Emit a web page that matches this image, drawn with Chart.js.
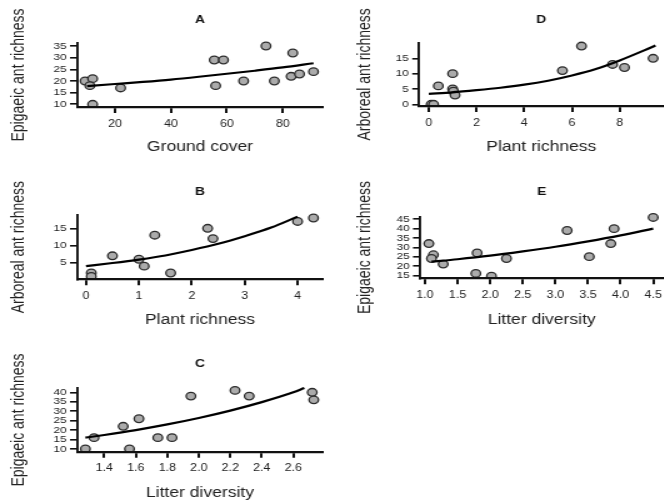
<!DOCTYPE html>
<html>
<head>
<meta charset="utf-8">
<script src="https://cdn.jsdelivr.net/npm/chart.js@4.4.1/dist/chart.umd.min.js"></script>
<style>
  html, body { margin: 0; padding: 0; overflow: hidden; background: #fff; }
  body { position: relative; width: 664px; height: 502px; }
  .panel { position: absolute; transform: scaleX(1.25); transform-origin: 0 0; }
  .panel canvas { display: block; }
</style>
</head>
<body>
<div class="panel" style="left:0px;top:0px"><canvas id="panelA" width="264" height="165"></canvas></div>
<div class="panel" style="left:330px;top:0px"><canvas id="panelD" width="272" height="165"></canvas></div>
<div class="panel" style="left:0px;top:165px"><canvas id="panelB" width="264" height="165"></canvas></div>
<div class="panel" style="left:330px;top:165px"><canvas id="panelE" width="272" height="165"></canvas></div>
<div class="panel" style="left:0px;top:330px"><canvas id="panelC" width="264" height="172"></canvas></div>
<script>
const FONT = '"Liberation Sans", Arial, Helvetica, sans-serif';

// A - ground cover vs epigaeic ants
const groundCover = [9.3, 12, 11, 12, 22, 55.5, 58.8, 56, 66, 74, 77, 83.6, 83, 86, 91];
const epigaeicA = [20, 21, 18, 10, 17, 29, 29, 18, 20, 35, 20, 32, 22, 23, 24];
const fitGroundX = [10, 20, 30, 40, 50, 60, 70, 80, 91];
const fitGroundY = [17.8, 18.7, 19.6, 20.6, 21.8, 23.1, 24.4, 25.8, 27.6];
const ticksAx = [20, 40, 60, 80];
const ticksAy = [10, 15, 20, 25, 30, 35];

// B - plant richness vs arboreal ants
const plantB = [0.1, 0.1, 0.5, 1.0, 1.1, 1.3, 1.6, 2.3, 2.4, 4.0, 4.3];
const arborealB = [2, 1, 7, 6, 4, 13, 2, 15, 12, 17, 18];
const fitPlantBX = [0, 0.5, 1, 1.5, 2, 2.5, 3, 3.5, 4];
const fitPlantBY = [4.0, 4.9, 5.9, 7.1, 8.7, 10.5, 12.7, 15.2, 18.4];
const ticksBx = [0, 1, 2, 3, 4];
const ticksBy = [5, 10, 15];

// C - litter diversity vs epigaeic ants
const litterC = [1.28, 1.335, 1.52, 1.56, 1.62, 1.74, 1.83, 1.95, 2.23, 2.32, 2.72, 2.73];
const epigaeicC = [10, 16, 22, 10, 26, 16, 16, 38, 41, 38, 40, 36];
const fitLitterCX = [1.28, 1.4, 1.6, 1.8, 2.0, 2.2, 2.4, 2.6, 2.67];
const fitLitterCY = [16, 17.4, 20.0, 23.0, 26.4, 30.3, 34.8, 40.0, 42.3];
const ticksCx = [1.4, 1.6, 1.8, 2.0, 2.2, 2.4, 2.6];
const ticksCy = [10, 15, 20, 25, 30, 35, 40];

// D - plant richness vs arboreal ants
const plantD = [0.1, 0.2, 0.4, 1.0, 1.0, 1.03, 1.1, 5.6, 6.4, 7.7, 8.2, 9.4];
const arborealD = [0, 0, 6, 10, 5, 4.3, 3, 11, 19, 13, 12, 15];
const fitPlantDX = [0, 1, 2, 3, 4, 5, 6, 7, 8, 9, 9.5];
const fitPlantDY = [3.4, 3.9, 4.6, 5.4, 6.4, 7.7, 9.4, 11.5, 14.3, 17.5, 19.2];
const ticksDx = [0, 2, 4, 6, 8];
const ticksDy = [0, 5, 10, 15];

// E - litter diversity vs epigaeic ants
const litterE = [1.06, 1.13, 1.1, 1.28, 1.8, 1.78, 2.02, 2.25, 3.18, 3.52, 3.85, 3.9, 4.5];
const epigaeicE = [32, 26, 24, 21, 27, 16, 14.5, 24, 39, 25, 32, 40, 46];
const fitLitterEX = [1.1, 1.5, 2, 2.5, 3, 3.5, 4, 4.5];
const fitLitterEY = [22.3, 23.6, 25.5, 27.8, 30.3, 33.2, 36.4, 40];
const ticksEx = [1.0, 1.5, 2.0, 2.5, 3.0, 3.5, 4.0, 4.5];
const ticksEy = [15, 20, 25, 30, 35, 40, 45];

function drawPanel(id, p) {
  const H = p.height;
  const fmt = p.decimals ? (v => v.toFixed(p.decimals)) : (v => String(v));
  const axisGrid = (len, lw) => ({ drawOnChartArea: false, drawTicks: true, tickLength: len, lineWidth: lw, color: '#111' });
  return new Chart(document.getElementById(id), {
    type: 'scatter',
    data: {
      datasets: [{
        data: p.fitX.map((x, i) => ({x: x, y: p.fitY[i]})),
        showLine: true,
        borderColor: '#000',
        borderWidth: 2.2,
        pointRadius: 0,
        cubicInterpolationMode: 'monotone',
        clip: false
      }, {
        data: p.x.map((x, i) => ({x: x, y: p.y[i]})),
        pointRadius: 3.8,
        pointBackgroundColor: '#ababab',
        pointBorderColor: '#2b2b2b',
        pointBorderWidth: 1.3,
        clip: {left: 10, top: 10, right: 10, bottom: 0}
      }]
    },
    options: {
      responsive: false,
      animation: false,
      events: [],
      layout: {padding: {left: 0, top: 0, right: p.padRight, bottom: 0}},
      plugins: {
        legend: {display: false},
        tooltip: {enabled: false},
        title: {
          display: true,
          text: p.title,
          fullSize: false,
          color: '#111',
          font: {family: FONT, size: 11, weight: 'bold'},
          padding: {top: p.titleY - 6.6, bottom: p.plotTop - p.titleY - 6.6}
        }
      },
      scales: {
        x: {
          type: 'linear',
          position: 'bottom',
          min: p.xMin,
          max: p.xMax,
          afterBuildTicks: s => { s.ticks = p.xTicks.map(v => ({value: v})); },
          afterFit: s => { s.height = H - p.plotBottom; },
          grid: axisGrid(6, 2),
          border: {display: true, color: '#111', width: 2.2, z: 1},
          ticks: {autoSkip: false, maxRotation: 0, padding: 5, color: '#222',
                  font: {family: FONT, size: 10}, callback: v => fmt(v)},
          title: {display: true, text: p.xTitle, color: '#222',
                  font: {family: FONT, size: 14}, padding: {top: 0, bottom: p.xTitlePad}}
        },
        y: {
          type: 'linear',
          position: 'left',
          min: p.yMin,
          max: p.yMax,
          afterBuildTicks: s => { s.ticks = p.yTicks.map(v => ({value: v})); },
          afterFit: s => { s.width = p.axisLeft; },
          grid: axisGrid(5.6, 1.6),
          border: {display: true, color: '#111', width: 1.9, z: 1},
          ticks: {autoSkip: false, padding: 2.7, color: '#222',
                  font: {family: FONT, size: 9.5}, callback: v => String(v)},
          title: {display: true, text: p.yTitle, color: '#222',
                  font: {family: FONT, size: 14}, padding: {top: p.yTitlePad, bottom: 0}}
        }
      }
    }
  });
}

drawPanel('panelA', {
  x: groundCover, y: epigaeicA, fitX: fitGroundX, fitY: fitGroundY,
  xTicks: ticksAx, yTicks: ticksAy, xMin: 6.4, xMax: 94.4, yMin: 8.84, yMax: 36.29,
  title: 'A', xTitle: 'Ground cover', yTitle: 'Epigaeic ant richness',
  height: 165, plotTop: 43, plotBottom: 107, titleY: 20, axisLeft: 61.6, padRight: 5.6,
  yTitlePad: 7, xTitlePad: 9.9
});

drawPanel('panelB', {
  x: plantB, y: arborealB, fitX: fitPlantBX, fitY: fitPlantBY,
  xTicks: ticksBx, yTicks: ticksBy, xMin: -0.17, xMax: 4.48, yMin: 0.17, yMax: 18.87,
  title: 'B', xTitle: 'Plant richness', yTitle: 'Arboreal ant richness',
  height: 165, plotTop: 50, plotBottom: 114.3, titleY: 26.7, axisLeft: 61.6, padRight: 5.6,
  yTitlePad: 7, xTitlePad: 1.6
});

drawPanel('panelC', {
  x: litterC, y: epigaeicC, fitX: fitLitterCX, fitY: fitLitterCY, decimals: 1,
  xTicks: ticksCx, yTicks: ticksCy, xMin: 1.2267, xMax: 2.7886, yMin: 8.57, yMax: 42.12,
  title: 'C', xTitle: 'Litter diversity', yTitle: 'Epigaeic ant richness',
  height: 172, plotTop: 58.3, plotBottom: 121.7, titleY: 34.3, axisLeft: 61.6, padRight: 5.6,
  yTitlePad: 7, xTitlePad: 0.3
});

drawPanel('panelD', {
  x: plantD, y: arborealD, fitX: fitPlantDX, fitY: fitPlantDY,
  xTicks: ticksDx, yTicks: ticksDy, xMin: -0.4, xMax: 9.83, yMin: -0.55, yMax: 20.09,
  title: 'D', xTitle: 'Plant richness', yTitle: 'Arboreal ant richness',
  height: 165, plotTop: 42.7, plotBottom: 106, titleY: 20, axisLeft: 71.4, padRight: 2.4,
  yTitlePad: 19.6, xTitlePad: 9.9
});

drawPanel('panelE', {
  x: litterE, y: epigaeicE, fitX: fitLitterEX, fitY: fitLitterEY, decimals: 1,
  xTicks: ticksEx, yTicks: ticksEy, xMin: 0.924, xMax: 4.656, yMin: 13.4, yMax: 46.39,
  title: 'E', xTitle: 'Litter diversity', yTitle: 'Epigaeic ant richness',
  height: 165, plotTop: 51.7, plotBottom: 113.3, titleY: 26.7, axisLeft: 72, padRight: 2.4,
  yTitlePad: 19.6, xTitlePad: 1.6
});
</script>
</body>
</html>
